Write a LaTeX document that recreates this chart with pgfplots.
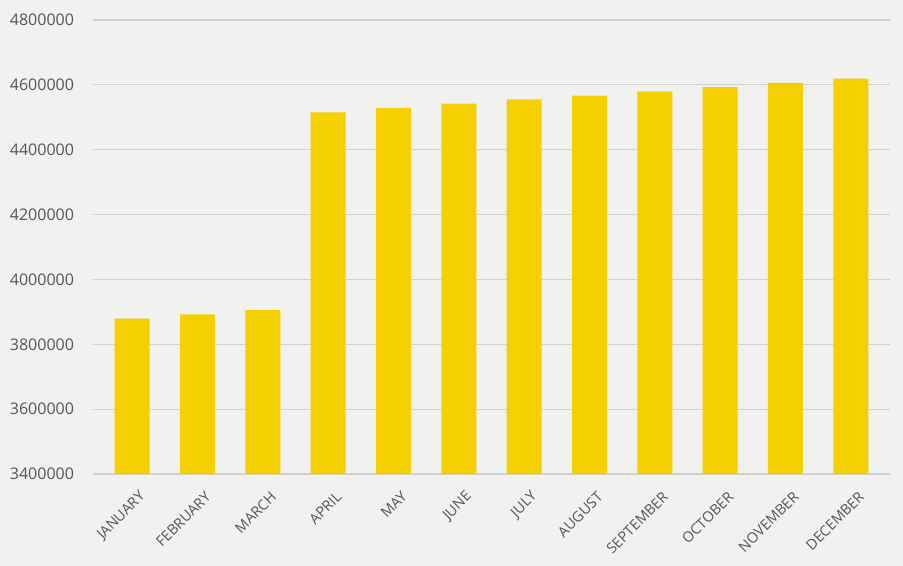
\documentclass[border=0pt]{standalone}
\usepackage{pgfplots}
\pgfplotsset{compat=1.18}
\usepackage{fontspec}
\setmainfont{Open Sans}
\usetikzlibrary{backgrounds,calc}
\definecolor{barcol}{RGB}{245,208,0}
\definecolor{bgcol}{RGB}{241,242,239}
\definecolor{gridcol}{RGB}{208,208,206}
\definecolor{txtcol}{RGB}{85,85,85}
\begin{document}
\begin{tikzpicture}
\begin{axis}[
  name=ax,
  scale only axis,
  width=398.5pt, height=227pt,
  ybar, bar width=17.5pt,
  ymin=3400000, ymax=4800000,
  ytick={3400000,3600000,3800000,4000000,4200000,4400000,4600000,4800000},
  xmin=-0.6, xmax=11.6,
  xtick=data,
  xticklabels={JANUARY,FEBRUARY,MARCH,APRIL,MAY,JUNE,JULY,AUGUST,SEPTEMBER,OCTOBER,NOVEMBER,DECEMBER},
  ymajorgrids, grid style={gridcol, line width=0.6pt},
  axis line style={draw=none},
  major tick style={draw=none},
  scaled y ticks=false,
  yticklabel style={/pgf/number format/fixed, /pgf/number format/1000 sep={}, /pgf/number format/assume math mode=true, font=\fontsize{8}{9}\selectfont, text=txtcol, xshift=-6pt},
  xticklabel style={rotate=45, anchor=east, font=\fontsize{7.2}{9}\selectfont, text=txtcol, xshift=3pt, yshift=-8pt},
]
\addplot[fill=barcol, draw=none] coordinates {
(0,3879000) (1,3892000) (2,3905000) (3,4515000) (4,4529000) (5,4542000)
(6,4555000) (7,4567000) (8,4580000) (9,4593000) (10,4606000) (11,4619000)};
\end{axis}
\begin{pgfonlayer}{background}
\fill[bgcol] ($(ax.south west)+(-46.5pt,-46pt)$) rectangle ($(ax.north east)+(6.5pt,10pt)$);
\end{pgfonlayer}
\end{tikzpicture}
\end{document}
